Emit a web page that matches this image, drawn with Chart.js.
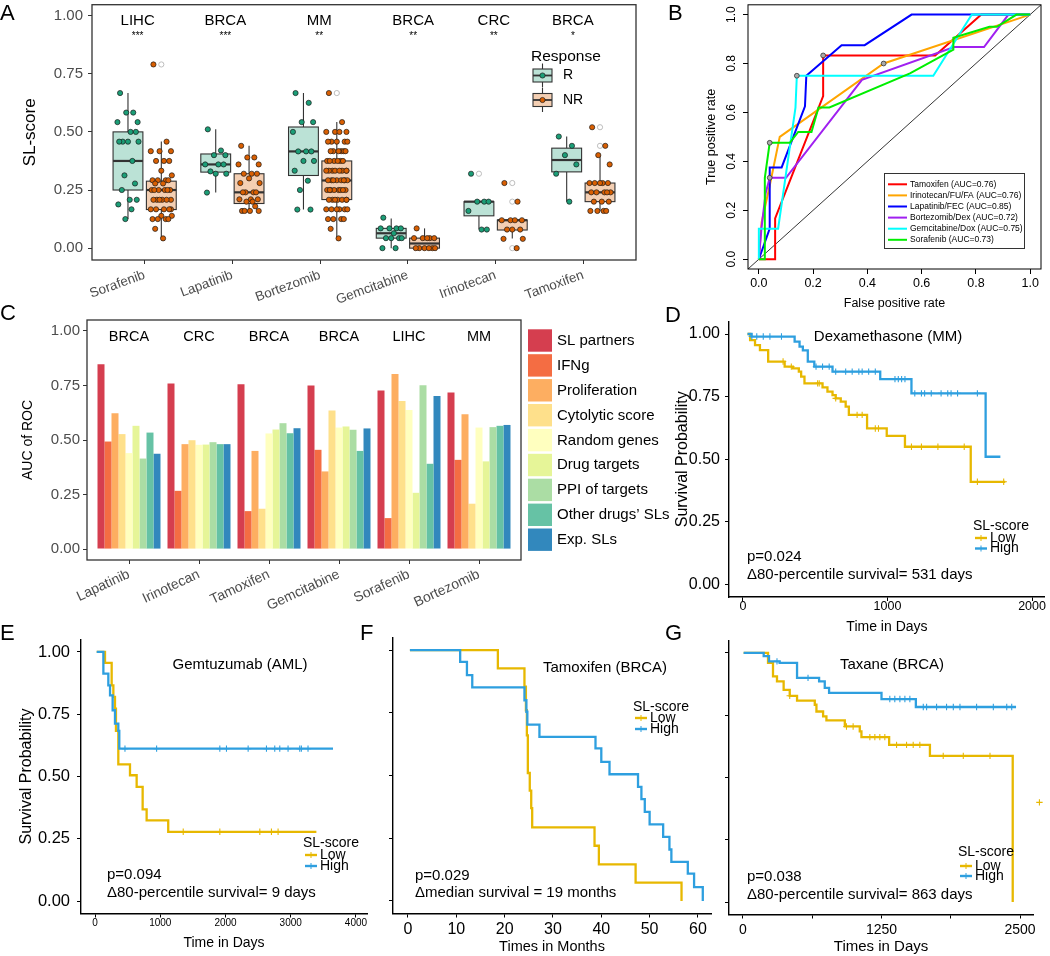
<!DOCTYPE html>
<html>
<head>
<meta charset="utf-8">
<title>SL-score response figure</title>
<script src="https://cdn.jsdelivr.net/npm/chart.js@4.4.1/dist/chart.umd.min.js"></script>
<style>
  html, body { margin: 0; padding: 0; background: #fff; }
  body { position: relative; width: 1050px; height: 956px; overflow: hidden; font-family: "Liberation Sans", Arial, Helvetica, sans-serif; }
  canvas { position: absolute; }
  .tag { position: absolute; font-size: 22px; line-height: 22px; color: #000; }
</style>
</head>
<body>
<canvas id="chartC" width="675" height="310" style="left:0;top:300px"></canvas>
<canvas id="chartA" width="665" height="320" style="left:0;top:0"></canvas>
<canvas id="chartB" width="370" height="320" style="left:680px;top:0"></canvas>
<canvas id="chartD" width="385" height="340" style="left:665px;top:300px"></canvas>
<canvas id="chartE" width="375" height="346" style="left:0;top:610px"></canvas>
<canvas id="chartF" width="370" height="346" style="left:345px;top:610px"></canvas>
<canvas id="chartG" width="360" height="346" style="left:690px;top:610px"></canvas>
<div class="tag" style="left:0;top:2px">A</div>
<div class="tag" style="left:668px;top:2px">B</div>
<div class="tag" style="left:0;top:302px">C</div>
<div class="tag" style="left:665px;top:304px">D</div>
<div class="tag" style="left:0;top:622px">E</div>
<div class="tag" style="left:360px;top:622px">F</div>
<div class="tag" style="left:665px;top:622px">G</div>
<script>
const FONT = '"Liberation Sans", Arial, Helvetica, sans-serif';
const LOW = '#E7B800';
const HIGH = '#2E9FDF';

// ---- A: SL-score of responders / non-responders ----
const drugsA = ['Sorafenib', 'Lapatinib', 'Bortezomib', 'Gemcitabine', 'Irinotecan', 'Tamoxifen'];
const cancerA = ['LIHC', 'BRCA', 'MM', 'BRCA', 'CRC', 'BRCA'];
const starsA = ['***', '***', '**', '**', '**', '*'];
const labelPosA = [0.92, 1.92, 2.99, 4.06, 4.98, 5.88];
const yTicksA = [0, 0.25, 0.5, 0.75, 1];
const rQ1 = [0.25, 0.327, 0.3125, 0.043, 0.139, 0.328];
const rMed = [0.375, 0.36, 0.416, 0.064, 0.2, 0.379];
const rQ3 = [0.5, 0.405, 0.521, 0.085, 0.2, 0.43];
const rLo = [0.125, 0.239, 0.166, 0.0, 0.081, 0.2];
const rHi = [0.667, 0.511, 0.667, 0.128, 0.2, 0.48];
const nrQ1 = [0.166, 0.192, 0.209, 0.0, 0.078, 0.2];
const nrMed = [0.25, 0.24, 0.291, 0.02, 0.12, 0.24];
const nrQ3 = [0.288, 0.32, 0.375, 0.043, 0.121, 0.28];
const nrLo = [0.041, 0.16, 0.041, 0.0, 0.041, 0.16];
const nrHi = [0.459, 0.44, 0.543, 0.085, 0.121, 0.4];
const rOut = [[], [], [], [], [0.32], []];
const nrOut = [[0.79], [], [0.667], [], [0.28, 0.2, 0.0], [0.52, 0.44]];
const rPts = [
  [0.667, 0.583, 0.583, 0.542, 0.542, 0.5, 0.5, 0.458, 0.458, 0.458, 0.458, 0.375, 0.313, 0.278, 0.25, 0.208, 0.208, 0.188, 0.167, 0.125],
  [0.511, 0.42, 0.4, 0.4, 0.36, 0.36, 0.36, 0.33, 0.32, 0.32, 0.239],
  [0.667, 0.625, 0.542, 0.542, 0.5, 0.416, 0.416, 0.416, 0.375, 0.375, 0.333, 0.29, 0.25, 0.166, 0.166],
  [0.131, 0.085, 0.085, 0.085, 0.085, 0.064, 0.043, 0.043, 0.043, 0.043, 0.0, 0.0],
  [0.32, 0.2, 0.2, 0.2, 0.16, 0.08, 0.08],
  [0.48, 0.44, 0.4, 0.36, 0.32, 0.2]
];
const nrPts = [
  [0.79, 0.458, 0.417, 0.417, 0.417, 0.375, 0.375, 0.375, 0.333, 0.313, 0.292, 0.292, 0.292, 0.292, 0.278, 0.278, 0.25, 0.25, 0.25, 0.25, 0.25, 0.25,
   0.208, 0.208, 0.208, 0.208, 0.208, 0.208, 0.167, 0.167, 0.167, 0.167, 0.167, 0.139, 0.139, 0.125, 0.125, 0.125, 0.125, 0.083, 0.042],
  [0.44, 0.39, 0.39, 0.36, 0.36, 0.32, 0.32, 0.32, 0.3, 0.28, 0.28, 0.24, 0.24, 0.24, 0.24, 0.21, 0.21, 0.21, 0.2, 0.2, 0.18, 0.16, 0.16, 0.16, 0.16],
  [0.667, 0.542, 0.5, 0.5, 0.5, 0.5, 0.458, 0.458, 0.458, 0.458, 0.458, 0.417, 0.417, 0.417, 0.417, 0.417, 0.417, 0.375, 0.375, 0.375, 0.375, 0.375, 0.375,
   0.333, 0.333, 0.333, 0.333, 0.333, 0.333, 0.333, 0.333, 0.292, 0.292, 0.292, 0.292, 0.292, 0.292, 0.292, 0.292, 0.25, 0.25, 0.25, 0.25, 0.25, 0.25, 0.25, 0.25,
   0.208, 0.208, 0.208, 0.208, 0.208, 0.208, 0.208, 0.167, 0.167, 0.167, 0.167, 0.167, 0.167, 0.125, 0.125, 0.125, 0.125, 0.083, 0.042],
  [0.085, 0.043, 0.043, 0.043, 0.043, 0.043, 0.0, 0.0, 0.0, 0.0, 0.0, 0.0],
  [0.28, 0.2, 0.12, 0.12, 0.12, 0.12, 0.08, 0.08, 0.08, 0.04, 0.04, 0.0],
  [0.52, 0.44, 0.4, 0.36, 0.28, 0.28, 0.28, 0.28, 0.28, 0.24, 0.24, 0.24, 0.24, 0.24, 0.2, 0.2, 0.2, 0.16, 0.16, 0.16, 0.16]
];
// fixed horizontal jitter pattern for the dots
const jitterA = [-0.09, 0.06, -0.02, 0.11, -0.12, 0.03, 0.09, -0.06, 0.0, 0.12, -0.1, 0.05, -0.04, 0.08, -0.07, 0.02, 0.1, -0.11, 0.04, -0.03, 0.07, -0.08, 0.01, 0.11, -0.05];

// ---- B: ROC curves ----
const rocNames = ['Tamoxifen (AUC=0.76)', 'Irinotecan/FU/FA (AUC=0.76)', 'Lapatinib/FEC (AUC=0.85)', 'Bortezomib/Dex (AUC=0.72)', 'Gemcitabine/Dox (AUC=0.75)', 'Sorafenib (AUC=0.73)'];
const rocColors = ['#FF0000', '#FFA500', '#0000FF', '#A020F0', '#00FFFF', '#00EE00'];
const rocTicks = [0, 0.2, 0.4, 0.6, 0.8, 1];
const rocLo = -0.04, rocHi = 1.04;
const tamFpr = [0, 0.06, 0.06, 0.237, 0.237, 0.65, 0.82, 1];
const tamTpr = [0, 0, 0.167, 0.667, 0.833, 0.833, 1, 1];
const iriFpr = [0, 0.01, 0.04, 0.077, 0.46, 1];
const iriTpr = [0, 0.15, 0.3, 0.5, 0.8, 1];
const lapFpr = [0, 0.04, 0.04, 0.084, 0.17, 0.175, 0.305, 0.39, 0.563, 1];
const lapTpr = [0, 0.125, 0.375, 0.375, 0.625, 0.75, 0.875, 0.875, 1, 1];
const borFpr = [0, 0.01, 0.025, 0.04, 0.1, 0.38, 0.72, 0.83, 0.92, 1];
const borTpr = [0, 0.13, 0.27, 0.333, 0.333, 0.733, 0.867, 0.867, 1, 1];
const gemFpr = [0, 0, 0.071, 0.135, 0.14, 0.643, 0.785, 1];
const gemTpr = [0, 0.125, 0.125, 0.62, 0.75, 0.75, 1, 1];
const sorFpr = [0, 0.022, 0.022, 0.04, 0.114, 0.145, 0.194, 0.22, 0.26, 0.557, 0.717, 0.717, 0.85, 0.877, 0.95, 1];
const sorTpr = [0, 0, 0.333, 0.476, 0.476, 0.52, 0.52, 0.62, 0.62, 0.76, 0.857, 0.905, 0.95, 0.95, 1, 1];
const rocMarkX = [0.237, 0.46, 0.14, 0.04, 0.04];
const rocMarkY = [0.833, 0.8, 0.75, 0.476, 0.333];

// ---- C: AUC per method ----
const drugsC = ['Lapatinib', 'Irinotecan', 'Tamoxifen', 'Gemcitabine', 'Sorafenib', 'Bortezomib'];
const cancerC = ['BRCA', 'CRC', 'BRCA', 'BRCA', 'LIHC', 'MM'];
const methodsC = ['SL partners', 'IFNg', 'Proliferation', 'Cytolytic score', 'Random genes', 'Drug targets', 'PPI of targets', 'Other drugs\u2019 SLs', 'Exp. SLs'];
const colorsC = ['#D53E4F', '#F46D43', '#FDAE61', '#FEE08B', '#FFFFBF', '#E6F598', '#ABDDA4', '#66C2A5', '#3288BD'];
const aucSL = [0.847, 0.759, 0.756, 0.75, 0.727, 0.718];
const aucIFNg = [0.493, 0.267, 0.174, 0.455, 0.142, 0.409];
const aucProlif = [0.623, 0.481, 0.45, 0.356, 0.803, 0.618];
const aucCyto = [0.527, 0.499, 0.185, 0.635, 0.679, 0.208];
const aucRandom = [0.44, 0.478, 0.53, 0.557, 0.637, 0.557];
const aucDrug = [0.565, 0.479, 0.548, 0.562, 0.258, 0.402];
const aucPPI = [0.415, 0.49, 0.577, 0.547, 0.751, 0.559];
const aucOther = [0.534, 0.481, 0.531, 0.45, 0.391, 0.565];
const aucExp = [0.437, 0.481, 0.554, 0.553, 0.702, 0.569];

// ---- D-G: Kaplan-Meier curves ----
const kmTicks = [0, 0.25, 0.5, 0.75, 1];
const dLowT = [32, 50, 84, 118, 175, 289, 346, 387, 403, 426, 551, 585, 620, 642, 677, 711, 733, 859, 995, 1121, 1576, 1815];
const dLowS = [1.0, 0.976, 0.956, 0.936, 0.89, 0.87, 0.863, 0.85, 0.83, 0.803, 0.787, 0.77, 0.756, 0.743, 0.73, 0.71, 0.677, 0.623, 0.593, 0.55, 0.41, 0.41];
const dHighT = [32, 60, 358, 392, 415, 449, 494, 620, 950, 1166, 1679, 1781];
const dHighS = [1.0, 0.99, 0.97, 0.95, 0.935, 0.89, 0.87, 0.85, 0.82, 0.763, 0.51, 0.51];
const dLowC = [278, 335, 517, 528, 642, 790, 825, 916, 938, 1166, 1235, 1349, 1531, 1622, 1804];
const dHighC = [62, 96, 141, 187, 267, 506, 551, 597, 642, 711, 756, 802, 825, 870, 916, 1052, 1075, 1098, 1121, 1189, 1235, 1257, 1303, 1371, 1417, 1440, 1485, 1622];

const eLowT = [26, 153, 255, 281, 306, 321, 357, 536, 638, 730, 791, 1122, 3393];
const eLowS = [1.0, 0.956, 0.866, 0.82, 0.772, 0.683, 0.549, 0.505, 0.458, 0.368, 0.324, 0.278, 0.278];
const eHighT = [26, 128, 204, 230, 270, 306, 357, 372, 3648];
const eHighS = [1.0, 0.913, 0.866, 0.826, 0.766, 0.712, 0.683, 0.612, 0.612];
const eLowC = [1352, 1913, 2526, 2704, 2806];
const eHighC = [459, 944, 1913, 2015, 2347, 2628, 2755, 2832, 2959, 3138, 3163, 3265];

const fLowT = [0.4, 18.6, 24.1, 24.4, 24.6, 24.8, 25.2, 25.5, 25.7, 38.6, 39.5, 47.1, 56.6];
const fLowS = [1.0, 0.927, 0.854, 0.76, 0.66, 0.51, 0.44, 0.37, 0.293, 0.22, 0.146, 0.073, 0.0];
const fHighT = [0.4, 10.8, 12.2, 13.3, 24.1, 24.5, 24.7, 27.2, 38.8, 40.0, 41.7, 47.6, 48.3, 49.0, 50.0, 52.8, 54.1, 54.5, 57.9, 59.2, 61.0];
const fHighS = [1.0, 0.953, 0.9, 0.851, 0.8, 0.754, 0.703, 0.654, 0.608, 0.554, 0.505, 0.455, 0.406, 0.355, 0.305, 0.255, 0.205, 0.156, 0.109, 0.055, 0.0];
const fLowC = [];
const fHighC = [];

const gLowT = [6, 226, 271, 307, 367, 422, 488, 648, 663, 723, 753, 919, 1054, 1069, 1319, 1687, 2434];
const gLowS = [1.0, 0.96, 0.906, 0.886, 0.852, 0.828, 0.809, 0.792, 0.765, 0.745, 0.729, 0.705, 0.685, 0.662, 0.631, 0.587, 0.0];
const gHighT = [6, 187, 235, 331, 488, 687, 738, 777, 1250, 1560, 2464];
const gHighS = [1.0, 0.987, 0.966, 0.96, 0.9, 0.886, 0.86, 0.84, 0.815, 0.783, 0.783];
const gLowC = [422, 934, 994, 1145, 1190, 1235, 1280, 1386, 1476, 1536, 1596, 1807, 1988, 2229];
const gHighC = [307, 587, 1325, 1370, 1416, 1461, 1506, 1627, 1657, 1747, 1837, 1898, 1958, 2108, 2259, 2380, 2425];
// one low-group censor mark sits past the right end of the axis
const gStrayT = [2675];
const gStrayS = [0.40];

Chart.defaults.font.family = FONT;
Chart.defaults.color = '#000';
Chart.defaults.animation = false;
Chart.defaults.responsive = false;
Chart.defaults.plugins.legend.display = false;
Chart.defaults.plugins.tooltip.enabled = false;

// helpers: pin scale sizes so plot areas land where the figure has them
function fixW(w) { return s => { s.width = w; s.paddingTop = 0; s.paddingBottom = 0; }; }
function fixH(h) { return s => { s.height = h; s.paddingLeft = 0; s.paddingRight = 0; }; }
function setTicks(vals) { return s => { s.ticks = vals.map(v => ({ value: v })); }; }
function pts(xs, ys) { return xs.map((x, i) => ({ x: x, y: ys[i] })); }
function survAt(T, S, t) { let v = S[0]; T.forEach((tt, i) => { if (tt <= t) v = S[i]; }); return v; }
function dots(groups, shift) {
  const out = [];
  groups.forEach((vals, g) => vals.forEach((v, i) => out.push({ x: g + 1 + shift + jitterA[i % jitterA.length], y: v })));
  return out;
}

// ---------- A ----------
const boxesA = {
  id: 'boxesA',
  beforeDatasetsDraw(chart) {
    const { ctx, scales: { x, y } } = chart;
    const sets = [
      { q1: rQ1, med: rMed, q3: rQ3, lo: rLo, hi: rHi, out: rOut, shift: -0.19, fill: '#BBE2D6' },
      { q1: nrQ1, med: nrMed, q3: nrQ3, lo: nrLo, hi: nrHi, out: nrOut, shift: 0.19, fill: '#F4CFB3' }
    ];
    ctx.save();
    sets.forEach(s => {
      drugsA.forEach((d, g) => {
        const cx = x.getPixelForValue(g + 1 + s.shift);
        const half = x.getPixelForValue(g + 1 + s.shift + 0.17) - cx;
        const y1 = y.getPixelForValue(s.q1[g]), y3 = y.getPixelForValue(s.q3[g]);
        ctx.strokeStyle = '#333'; ctx.lineWidth = 1.1;
        ctx.beginPath();
        ctx.moveTo(cx, y.getPixelForValue(s.hi[g])); ctx.lineTo(cx, y3);
        ctx.moveTo(cx, y1); ctx.lineTo(cx, y.getPixelForValue(s.lo[g]));
        ctx.stroke();
        ctx.fillStyle = s.fill;
        ctx.fillRect(cx - half, y3, 2 * half, y1 - y3);
        ctx.strokeRect(cx - half, y3, 2 * half, y1 - y3);
        const ym = y.getPixelForValue(s.med[g]);
        ctx.lineWidth = 2.2;
        ctx.beginPath(); ctx.moveTo(cx - half, ym); ctx.lineTo(cx + half, ym); ctx.stroke();
        ctx.strokeStyle = '#bdbdbd'; ctx.lineWidth = 1;
        s.out[g].forEach(v => { ctx.beginPath(); ctx.arc(cx, y.getPixelForValue(v), 2.6, 0, 2 * Math.PI); ctx.stroke(); });
      });
    });
    ctx.restore();
  },
  afterDraw(chart) {
    const { ctx, chartArea: a, scales: { x } } = chart;
    ctx.save();
    ctx.strokeStyle = '#333'; ctx.lineWidth = 1.3;
    ctx.strokeRect(a.left, a.top, a.right - a.left, a.bottom - a.top);
    ctx.fillStyle = '#000'; ctx.textAlign = 'center'; ctx.textBaseline = 'middle';
    ctx.font = '15px ' + FONT;
    cancerA.forEach((c, i) => ctx.fillText(c, x.getPixelForValue(labelPosA[i]), 21));
    ctx.font = '10px ' + FONT;
    starsA.forEach((s, i) => ctx.fillText(s, x.getPixelForValue(labelPosA[i]), 36));
    // legend
    ctx.textAlign = 'left';
    ctx.font = '15.5px ' + FONT;
    ctx.fillText('Response', 531, 57);
    [['#BBE2D6', '#1B9E77', 'R', 75.5], ['#F4CFB3', '#D95F02', 'NR', 100]].forEach(([f, c, t, cy]) => {
      ctx.strokeStyle = '#333'; ctx.lineWidth = 1.1;
      ctx.beginPath(); ctx.moveTo(542.5, cy - 12); ctx.lineTo(542.5, cy + 12); ctx.stroke();
      ctx.fillStyle = f; ctx.fillRect(533, cy - 6.5, 19, 13); ctx.strokeRect(533, cy - 6.5, 19, 13);
      ctx.lineWidth = 1.8; ctx.beginPath(); ctx.moveTo(533, cy); ctx.lineTo(552, cy); ctx.stroke();
      ctx.fillStyle = c; ctx.beginPath(); ctx.arc(542.5, cy, 2.6, 0, 2 * Math.PI); ctx.fill();
      ctx.lineWidth = 0.7; ctx.strokeStyle = '#1b1b1b'; ctx.stroke();
      ctx.fillStyle = '#000'; ctx.font = '14px ' + FONT; ctx.fillText(t, 563, cy);
    });
    ctx.restore();
  }
};

new Chart(document.getElementById('chartA'), {
  type: 'scatter',
  data: { datasets: [
    { data: dots(rPts, -0.19), pointRadius: 2.6, backgroundColor: '#1B9E77', borderColor: '#1b1b1b', borderWidth: 0.7 },
    { data: dots(nrPts, 0.19), pointRadius: 2.6, backgroundColor: '#D95F02', borderColor: '#1b1b1b', borderWidth: 0.7 }
  ]},
  options: {
    devicePixelRatio: 1,
    layout: { padding: { top: 3, right: 29, bottom: 0, left: 0 } },
    scales: {
      x: { type: 'linear', min: 0.4, max: 6.6, afterBuildTicks: setTicks(drugsA.map((d, i) => i + 1)), afterFit: fixH(60),
           ticks: { callback: (v, i) => drugsA[i], autoSkip: false, minRotation: 20, maxRotation: 20, padding: 3, color: '#4D4D4D', font: { size: 13.5 } },
           grid: { drawOnChartArea: false, tickLength: 4, color: '#333' }, border: { display: false } },
      y: { min: -0.051, max: 1.047, afterBuildTicks: setTicks(yTicksA), afterFit: fixW(92),
           ticks: { callback: v => v.toFixed(2), color: '#4D4D4D', font: { size: 15 }, padding: 5 },
           grid: { drawOnChartArea: false, tickLength: 4, color: '#333' }, border: { display: false },
           title: { display: true, text: 'SL-score', font: { size: 17 }, color: '#000', padding: { top: 20, bottom: 0 } } }
    }
  },
  plugins: [boxesA]
});

// ---------- B ----------
const rocDeco = {
  id: 'rocDeco',
  afterDraw(chart) {
    const { ctx, chartArea: a, scales: { y } } = chart;
    ctx.save();
    ctx.strokeStyle = '#000'; ctx.lineWidth = 1;
    ctx.strokeRect(a.left, a.top, a.right - a.left, a.bottom - a.top);
    ctx.fillStyle = '#000'; ctx.font = '12px ' + FONT; ctx.textAlign = 'center'; ctx.textBaseline = 'middle';
    rocTicks.forEach(v => {
      ctx.save(); ctx.translate(52, y.getPixelForValue(v)); ctx.rotate(-Math.PI / 2);
      ctx.fillText(v.toFixed(1), 0, 0); ctx.restore();
    });
    ctx.fillStyle = '#fff'; ctx.fillRect(204, 173, 140, 75);
    ctx.strokeStyle = '#333'; ctx.lineWidth = 1; ctx.strokeRect(204.5, 173.5, 140, 75);
    ctx.font = '8.5px ' + FONT; ctx.textAlign = 'left';
    rocNames.forEach((n, i) => {
      const yy = 184.3 + i * 11.1;
      ctx.strokeStyle = rocColors[i]; ctx.lineWidth = 2;
      ctx.beginPath(); ctx.moveTo(208, yy); ctx.lineTo(227, yy); ctx.stroke();
      ctx.fillStyle = '#000'; ctx.fillText(n, 230, yy);
    });
    ctx.restore();
  }
};

const rocX = [tamFpr, iriFpr, lapFpr, borFpr, gemFpr, sorFpr];
const rocY = [tamTpr, iriTpr, lapTpr, borTpr, gemTpr, sorTpr];
new Chart(document.getElementById('chartB'), {
  type: 'scatter',
  data: { datasets: rocX.map((xs, i) => ({
      data: pts(xs, rocY[i]), showLine: true, borderColor: rocColors[i], borderWidth: 2, pointRadius: 0, order: 6 - i
    })).concat([
      { data: [{ x: rocLo, y: rocLo }, { x: rocHi, y: rocHi }], showLine: true, borderColor: '#000', borderWidth: 0.8, pointRadius: 0, order: 10 },
      { data: pts(rocMarkX, rocMarkY), pointRadius: 2.4, backgroundColor: '#aaa', borderColor: '#333', borderWidth: 0.8, order: 0 }
    ]) },
  options: {
    devicePixelRatio: 1,
    layout: { padding: { top: 2, right: 9, bottom: 0, left: 0 } },
    scales: {
      x: { min: rocLo, max: rocHi, afterBuildTicks: setTicks(rocTicks), afterFit: fixH(51),
           ticks: { callback: v => v.toFixed(1), font: { size: 12.5 }, color: '#000', padding: 2, maxRotation: 0, autoSkip: false },
           grid: { drawOnChartArea: false, tickLength: 5, color: '#000' }, border: { display: false },
           title: { display: true, text: 'False positive rate', font: { size: 12.5 }, color: '#000', padding: { top: 0, bottom: 9 } } },
      y: { min: rocLo, max: rocHi, afterBuildTicks: setTicks(rocTicks), afterFit: fixW(68),
           ticks: { callback: () => '' },
           grid: { drawOnChartArea: false, tickLength: 5, color: '#000' }, border: { display: false },
           title: { display: true, text: 'True positive rate', font: { size: 12.5 }, color: '#000', padding: { top: 24, bottom: 0 } } }
    }
  },
  plugins: [rocDeco]
});

// ---------- C ----------
const barDeco = {
  id: 'barDeco',
  afterDraw(chart) {
    const { ctx, chartArea: a, scales: { x } } = chart;
    ctx.save();
    ctx.strokeStyle = '#333'; ctx.lineWidth = 1.3;
    ctx.strokeRect(a.left, a.top, a.right - a.left, a.bottom - a.top);
    ctx.fillStyle = '#000'; ctx.font = '14.5px ' + FONT; ctx.textAlign = 'center'; ctx.textBaseline = 'middle';
    cancerC.forEach((c, i) => ctx.fillText(c, x.getPixelForValue(i + 1), 37));
    ctx.textAlign = 'left'; ctx.font = '15px ' + FONT;
    methodsC.forEach((m, i) => {
      const y0 = 29.3 + i * 24.9;
      ctx.fillStyle = colorsC[i]; ctx.fillRect(528, y0, 24, 22.4);
      ctx.fillStyle = '#000'; ctx.fillText(m, 557, y0 + 11.5);
    });
    ctx.restore();
  }
};

const aucC = [aucSL, aucIFNg, aucProlif, aucCyto, aucRandom, aucDrug, aucPPI, aucOther, aucExp];
new Chart(document.getElementById('chartC'), {
  type: 'bar',
  data: { datasets: aucC.map((vals, k) => ({
    label: methodsC[k], data: vals.map((v, i) => ({ x: i + 1, y: v })), backgroundColor: colorsC[k],
    borderWidth: 0, categoryPercentage: 0.9, barPercentage: 1.0
  })) },
  options: {
    devicePixelRatio: 1,
    layout: { padding: { top: 20, right: 154, bottom: 0, left: 0 } },
    scales: {
      x: { type: 'linear', min: 0.4, max: 6.6, offset: false, afterBuildTicks: setTicks(drugsC.map((d, i) => i + 1)), afterFit: fixH(50),
           ticks: { callback: (v, i) => drugsC[i], autoSkip: false, minRotation: 25, maxRotation: 25, padding: 2, color: '#4D4D4D', font: { size: 14 } },
           grid: { offset: false, drawOnChartArea: false, tickLength: 4, color: '#333' }, border: { display: false } },
      y: { min: -0.05, max: 1.05, afterBuildTicks: setTicks(yTicksA), afterFit: fixW(87),
           ticks: { callback: v => v.toFixed(2), color: '#4D4D4D', font: { size: 15 }, padding: 3 },
           grid: { drawOnChartArea: false, tickLength: 4, color: '#333' }, border: { display: false },
           title: { display: true, text: 'AUC of ROC', font: { size: 14 }, color: '#000', padding: { top: 20, bottom: 0 } } }
    }
  },
  plugins: [barDeco]
});

// ---------- D-G ----------
const kmText = {
  id: 'kmText',
  afterDraw(chart, args, o) {
    const { ctx, scales: { x, y } } = chart;
    ctx.save();
    ctx.fillStyle = '#000'; ctx.textBaseline = 'middle';
    ctx.font = '15px ' + FONT; ctx.textAlign = 'center';
    ctx.fillText(o.title, o.tx, o.ty);
    ctx.textAlign = 'left';
    ctx.fillText(o.p, o.px, o.py);
    ctx.fillText(o.d, o.px, o.dy);
    ctx.font = '14px ' + FONT;
    ctx.fillText('SL-score', o.lx, o.ly);
    [[LOW, 'Low', o.ly1], [HIGH, 'High', o.ly2]].forEach(([c, t, yy]) => {
      ctx.strokeStyle = c; ctx.lineWidth = 2.4;
      ctx.beginPath(); ctx.moveTo(o.lx + 2, yy); ctx.lineTo(o.lx + 14, yy); ctx.stroke();
      ctx.lineWidth = 1; ctx.beginPath(); ctx.moveTo(o.lx + 8, yy - 3); ctx.lineTo(o.lx + 8, yy + 3); ctx.stroke();
      ctx.fillStyle = '#000'; ctx.fillText(t, o.lx + 17, yy);
    });
    // censor marks that fall outside the axis range
    if (o.strayT) {
      ctx.strokeStyle = LOW; ctx.lineWidth = 1.1;
      o.strayT.forEach((t, i) => {
        const px = x.getPixelForValue(t), py = y.getPixelForValue(o.strayS[i]);
        ctx.beginPath(); ctx.moveTo(px - 3.2, py); ctx.lineTo(px + 3.2, py);
        ctx.moveTo(px, py - 3.2); ctx.lineTo(px, py + 3.2); ctx.stroke();
      });
    }
    ctx.restore();
  }
};

function km(id, S, P) {
  const cv = document.getElementById(id);
  const datasets = [
    { data: pts(S.highT, S.highS), showLine: true, stepped: true, borderColor: HIGH, borderWidth: 2.3, pointRadius: 0, order: 1 },
    { data: pts(S.lowT, S.lowS), showLine: true, stepped: true, borderColor: LOW, borderWidth: 2.3, pointRadius: 0, order: 2 },
    { data: S.highC.map(t => ({ x: t, y: survAt(S.highT, S.highS, t) })), pointStyle: 'cross', pointRadius: 3.2, borderColor: HIGH, borderWidth: 1.1, order: 0 },
    { data: S.lowC.map(t => ({ x: t, y: survAt(S.lowT, S.lowS, t) })), pointStyle: 'cross', pointRadius: 3.2, borderColor: LOW, borderWidth: 1.1, order: 0 }
  ];
  new Chart(cv, {
    type: 'scatter',
    data: { datasets: datasets },
    options: {
      devicePixelRatio: 1,
      layout: { padding: { top: P.top, right: P.right, bottom: 0, left: 0 } },
      scales: {
        x: { min: P.xmin, max: P.xmax, afterBuildTicks: setTicks(P.xticks), afterFit: fixH(cv.height - P.bottom),
             ticks: { callback: (v, i) => P.xlabels[i], font: { size: P.xfs }, color: '#000', padding: P.xpad, maxRotation: 0, autoSkip: false },
             grid: { drawOnChartArea: false, tickLength: 4, color: '#000' },
             border: { display: true, color: '#000', width: 1.4 },
             title: { display: true, text: P.xtitle, font: { size: P.xtfs }, color: '#000', padding: { top: 0, bottom: P.xtpad } } },
        y: { min: -0.05, max: 1.05, afterBuildTicks: setTicks(kmTicks), afterFit: fixW(P.left),
             ticks: { callback: v => (P.ylab ? v.toFixed(2) : ''), font: { size: P.yfs }, color: '#000', padding: P.ypad },
             grid: { drawOnChartArea: false, tickLength: 4, color: '#000' },
             border: { display: true, color: '#000', width: 1.4 },
             title: { display: !!P.ytitle, text: P.ytitle || '', font: { size: 16 }, color: '#000', padding: { top: P.ytpad || 0, bottom: 0 } } }
      },
      plugins: { kmText: Object.assign({ strayT: S.strayT, strayS: S.strayS }, P.text) }
    },
    plugins: [kmText]
  });
}

km('chartD',
  { lowT: dLowT, lowS: dLowS, highT: dHighT, highS: dHighS, lowC: dLowC, highC: dHighC },
  { top: 21.5, bottom: 297, left: 64, right: 2, xmin: -96, xmax: 2089,
    xticks: [0, 1000, 2000], xlabels: ['0', '1000', '2000'], xfs: 12.5, xpad: -2,
    xtitle: 'Time in Days', xtfs: 14, xtpad: 4.6, ylab: true, yfs: 16, ypad: 5,
    ytitle: 'Survival Probability', ytpad: 8.4,
    text: { title: 'Dexamethasone (MM)', tx: 223, ty: 37, p: 'p=0.024', d: '\u039480-percentile survival= 531 days',
            px: 82, py: 257, dy: 275, lx: 308, ly: 226, ly1: 238, ly2: 248.5 } });

km('chartE',
  { lowT: eLowT, lowS: eLowS, highT: eHighT, highS: eHighS, lowC: eLowC, highC: eHighC },
  { top: 29.5, bottom: 303.5, left: 81, right: 8, xmin: -215, xmax: 4169,
    xticks: [0, 1000, 2000, 3000, 4000], xlabels: ['0', '1000', '2000', '3000', '4000'], xfs: 10, xpad: 0,
    xtitle: 'Time in Days', xtfs: 14, xtpad: 4.6, ylab: true, yfs: 16.5, ypad: 7,
    ytitle: 'Survival Probability', ytpad: 17,
    text: { title: 'Gemtuzumab (AML)', tx: 240, ty: 55, p: 'p=0.094', d: '\u039480-percentile survival= 9 days',
            px: 107, py: 265, dy: 283, lx: 303, ly: 233, ly1: 245, ly2: 256 } });

km('chartF',
  { lowT: fLowT, lowS: fLowS, highT: fHighT, highS: fHighS, lowC: fLowC, highC: fHighC },
  { top: 27.5, bottom: 303.5, left: 48, right: 4, xmin: -3.1, xmax: 62.7,
    xticks: [0, 10, 20, 30, 40, 50, 60], xlabels: ['0', '10', '20', '30', '40', '50', '60'], xfs: 16, xpad: 2,
    xtitle: 'Times in Months', xtfs: 14.5, xtpad: 0.5, ylab: false, yfs: 12, ypad: 2,
    text: { title: 'Tamoxifen (BRCA)', tx: 260, ty: 58, p: 'p=0.029', d: '\u0394median survival = 19 months',
            px: 70, py: 266, dy: 283, lx: 288, ly: 97, ly1: 108, ly2: 119 } });

km('chartG',
  { lowT: gLowT, lowS: gLowS, highT: gHighT, highS: gHighS, lowC: gLowC, highC: gHighC, strayT: gStrayT, strayS: gStrayS },
  { top: 30.5, bottom: 304.5, left: 39, right: 17, xmin: -126, xmax: 2617,
    xticks: [0, 625, 1250, 1875, 2500], xlabels: ['0', '', '1250', '', '2500'], xfs: 14, xpad: 3,
    xtitle: 'Times in Days', xtfs: 15, xtpad: 0, ylab: false, yfs: 12, ypad: 2,
    text: { title: 'Taxane (BRCA)', tx: 202, ty: 55, p: 'p=0.038', d: '\u039480-percentile survival= 863 days',
            px: 57, py: 267, dy: 285, lx: 268, ly: 242, ly1: 256, ly2: 266 } });
</script>
</body>
</html>
